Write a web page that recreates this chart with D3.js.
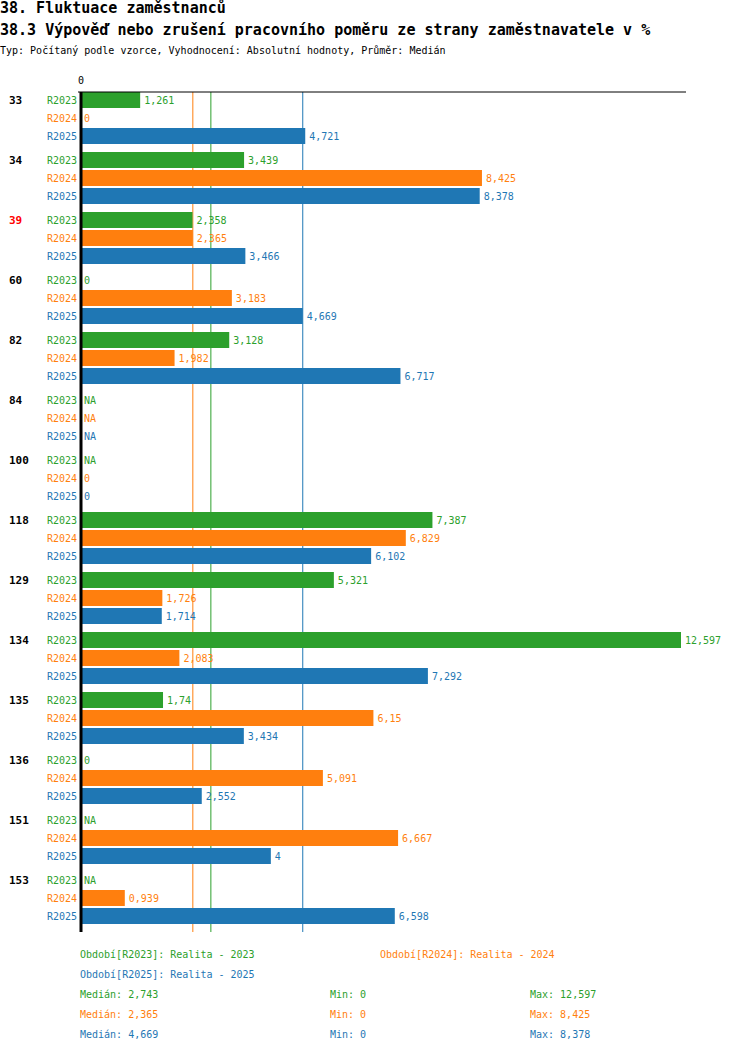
<!DOCTYPE html>
<html>
<head>
<meta charset="utf-8">
<script src="https://cdn.jsdelivr.net/npm/d3@7"></script>
<style>
  body { margin: 0; background: #fff; }
  text { font-family: 'DejaVu Sans Mono', monospace; }
</style>
</head>
<body>
<svg id="chart"></svg>
<script>
let width = 750
let height = 1052

// data
let categories = ['33', '34', '39', '60', '82', '84', '100', '118', '129', '134', '135', '136', '151', '153']
let highlighted = ['39']
let seriesNames = ['R2023', 'R2024', 'R2025']
let seriesLabels = ['Období[R2023]: Realita - 2023', 'Období[R2024]: Realita - 2024', 'Období[R2025]: Realita - 2025']
let r2023 = [1.261, 3.439, 2.358, 0, 3.128, null, null, 7.387, 5.321, 12.597, 1.74, 0, null, null]
let r2024 = [0, 8.425, 2.365, 3.183, 1.982, null, 0, 6.829, 1.726, 2.083, 6.15, 5.091, 6.667, 0.939]
let r2025 = [4.721, 8.378, 3.466, 4.669, 6.717, null, 0, 6.102, 1.714, 7.292, 3.434, 2.552, 4, 6.598]
let medians = [2.743, 2.365, 4.669]
let mins = [0, 0, 0]
let maxs = [12.597, 8.425, 8.378]
let colors = ['#2ca02c', '#ff7f0e', '#1f77b4']

let series = [r2023, r2024, r2025]
let fmt = v => String(v).replace('.', ',')

let svg = d3.select('#chart')
	.attr('width', width)
	.attr('height', height)

// titles
svg.append('text').attr('x', 0).attr('y', 13)
	.style('font-size', '15px').style('font-weight', 'bold')
	.text('38. Fluktuace zaměstnanců')
svg.append('text').attr('x', 0).attr('y', 35)
	.style('font-size', '15px').style('font-weight', 'bold')
	.text('38.3 Výpověď nebo zrušení pracovního poměru ze strany zaměstnavatele v %')
svg.append('text').attr('x', 0).attr('y', 54)
	.style('font-size', '10px')
	.text('Typ: Počítaný podle vzorce, Vyhodnocení: Absolutní hodnoty, Průměr: Medián')

let x = d3.scaleLinear()
	.domain([0, d3.max(maxs)])
	.range([80, 681])

let y0 = d3.scaleBand()
	.domain(categories)
	.range([91, 91 + 60 * categories.length])
	.paddingInner(0)

let y1 = d3.scaleBand()
	.domain(seriesNames)
	.range([0, 54])

let plotTop = 92
let plotBottom = 932

// median lines (behind bars)
svg.append('g')
	.selectAll('line')
	.data(medians)
	.join('line')
	.attr('x1', d => x(d)).attr('x2', d => x(d))
	.attr('y1', plotTop).attr('y2', plotBottom)
	.attr('stroke', (d, i) => colors[i])
	.attr('stroke-width', 1)

// bars
let group = svg.append('g')
	.selectAll('g')
	.data(categories)
	.join('g')
	.attr('transform', d => `translate(0,${y0(d)})`)

group.append('text')
	.attr('x', 9)
	.attr('y', y1('R2023') + 9)
	.attr('dy', '0.35em')
	.style('font-size', '11px')
	.style('font-weight', 'bold')
	.attr('fill', d => highlighted.includes(d) ? '#ff0000' : '#000')
	.text(d => d)

seriesNames.forEach((s, si) => {
	group.append('rect')
		.attr('x', x(0))
		.attr('y', y1(s) + 1)
		.attr('height', 16)
		.attr('width', (d, i) => series[si][i] == null ? 0 : x(series[si][i]) - x(0))
		.attr('fill', colors[si])

	group.append('text')
		.attr('x', 77)
		.attr('y', y1(s) + 9)
		.attr('dy', '0.35em')
		.attr('text-anchor', 'end')
		.style('font-size', '10px')
		.attr('fill', colors[si])
		.text(s)

	group.append('text')
		.attr('x', (d, i) => series[si][i] == null ? 84 : Math.max(84, x(series[si][i]) + 4))
		.attr('y', y1(s) + 9)
		.attr('dy', '0.35em')
		.style('font-size', '10px')
		.attr('fill', colors[si])
		.text((d, i) => series[si][i] == null ? 'NA' : fmt(series[si][i]))
})

// axes
svg.append('line')
	.attr('x1', 78).attr('x2', 686)
	.attr('y1', plotTop).attr('y2', plotTop)
	.attr('stroke', '#000')
svg.append('line')
	.attr('x1', 81).attr('x2', 81)
	.attr('y1', plotTop).attr('y2', plotBottom)
	.attr('stroke', '#000')
	.attr('stroke-width', 3)
svg.append('text')
	.attr('x', x(0) + 1).attr('y', 84)
	.attr('text-anchor', 'middle')
	.style('font-size', '10px')
	.text('0')

// legend
let legendPos = [[80, 958], [380, 958], [80, 978]]
svg.append('g')
	.selectAll('text')
	.data(seriesLabels)
	.join('text')
	.attr('x', (d, i) => legendPos[i][0])
	.attr('y', (d, i) => legendPos[i][1])
	.style('font-size', '10px')
	.attr('fill', (d, i) => colors[i])
	.text(d => d)

let stats = svg.append('g')
	.selectAll('g')
	.data(seriesNames)
	.join('g')
	.attr('transform', (d, i) => `translate(0,${998 + i * 20})`)
stats.append('text').attr('x', 80).style('font-size', '10px')
	.attr('fill', (d, i) => colors[i]).text((d, i) => 'Medián: ' + fmt(medians[i]))
stats.append('text').attr('x', 330).style('font-size', '10px')
	.attr('fill', (d, i) => colors[i]).text((d, i) => 'Min: ' + fmt(mins[i]))
stats.append('text').attr('x', 530).style('font-size', '10px')
	.attr('fill', (d, i) => colors[i]).text((d, i) => 'Max: ' + fmt(maxs[i]))
</script>
</body>
</html>
